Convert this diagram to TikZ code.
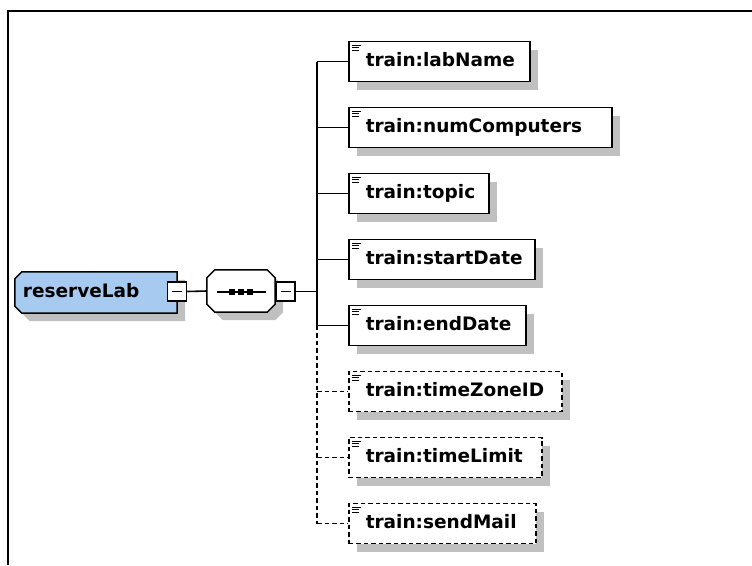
\documentclass[tikz,border=0pt]{standalone}
\usepackage{fontspec}
\setmainfont{DejaVu Sans}
\usetikzlibrary{calc,shadows}
\definecolor{elemblue}{RGB}{166,202,240}
\definecolor{shadowc}{RGB}{192,192,192}
\pgfdeclarelayer{background}
\pgfsetlayers{background,main}
\begin{document}
\begin{tikzpicture}[x=1pt,y=1pt,
  sh/.style={drop shadow={shadow xshift=8pt,shadow yshift=-8pt,fill=shadowc,opacity=1}},
  conn/.style={line width=1.6pt},
  optline/.style={conn, dash pattern=on 4.5pt off 3pt},
  lbl/.style={font=\fontsize{18.5}{20}\selectfont\bfseries, text height=14pt, text depth=4pt},
  icon/.style={path picture={\draw[line width=1pt, solid]
      ([xshift=3.5pt,yshift=-3.5pt]path picture bounding box.north west) -- ++(9pt,0pt)
      ([xshift=3.5pt,yshift=-6pt]path picture bounding box.north west) -- ++(7pt,0pt)
      ([xshift=3.5pt,yshift=-8.5pt]path picture bounding box.north west) -- ++(7pt,0pt);}},
  elembox/.style={lbl, draw, line width=1.5pt, fill=white, sh, inner xsep=0pt, align=left,
      minimum height=40pt, anchor=west, icon},
  optbox/.style={elembox, dash pattern=on 4.5pt off 3pt},
  minusbox/.style={draw, line width=1.5pt, fill=white, minimum size=19pt, inner sep=0pt,
      path picture={\draw[line width=1.5pt]
      ([xshift=4.5pt]path picture bounding box.west) -- ([xshift=-4.5pt]path picture bounding box.east);}}
]
\useasboundingbox (0,0) rectangle (752,-565);
% frame
\draw[line width=2pt] (7.7,-565) -- (7.7,-10.5) -- (752,-10.5);

% root element
\node[lbl, inner xsep=0pt, text width=162pt, minimum height=41pt, align=left] (rl) at (96,-292.5) {\hspace*{8pt}reserveLab};
% sequence compositor
\node[minimum width=68pt, minimum height=42pt, inner sep=0pt] (seq) at (241,-291) {};
\begin{pgfonlayer}{background}
  \draw[line width=1.5pt, fill=elemblue, sh]
    ($(rl.north west)+(7,0)$) -- (rl.north east) -- (rl.south east) -- ($(rl.south west)+(7,0)$)
    -- ($(rl.south west)+(0,7)$) -- ($(rl.north west)+(0,-7)$) -- cycle;
  \draw[line width=1.5pt, fill=white, sh]
    ($(seq.north west)+(8,0)$) -- ($(seq.north east)+(-8,0)$) -- ($(seq.north east)+(0,-8)$)
    -- ($(seq.south east)+(0,8)$) -- ($(seq.south east)+(-8,0)$) -- ($(seq.south west)+(8,0)$)
    -- ($(seq.south west)+(0,8)$) -- ($(seq.north west)+(0,-8)$) -- cycle;
\end{pgfonlayer}
\draw[line width=1.5pt] ($(seq.center)+(-24,-1)$) -- ($(seq.center)+(25,-1)$);
\foreach \dx in {-9,0,9}
  \fill ($(seq.center)+(\dx-2.8,-3.8)$) rectangle ($(seq.center)+(\dx+2.8,1.8)$);

\node[minusbox] (m1) at (177,-291.5) {};
\node[minusbox] (m2) at (285.5,-291.5) {};
\coordinate (bar) at (317,-291.5);

% children
\node[elembox, text width=181pt] (labName) at (348,-61.5) {\hspace*{17pt}train:labName};
\node[elembox, text width=263pt] (numComputers) at (348,-127.5) {\hspace*{17pt}train:numComputers};
\node[elembox, text width=140pt] (topic) at (348,-193.5) {\hspace*{17pt}train:topic};
\node[elembox, text width=186pt] (startDate) at (348,-259.5) {\hspace*{17pt}train:startDate};
\node[elembox, text width=177pt] (endDate) at (348,-325.5) {\hspace*{17pt}train:endDate};
\node[optbox, text width=213pt] (timeZoneID) at (348,-391.5) {\hspace*{17pt}train:timeZoneID};
\node[optbox, text width=193pt] (timeLimit) at (348,-457.5) {\hspace*{17pt}train:timeLimit};
\node[optbox, text width=187pt] (sendMail) at (348,-523.5) {\hspace*{17pt}train:sendMail};

% connectors
\draw[conn] (m1.east) -- (seq.west);
\draw[conn] (m2.east) -- (bar);
\draw[conn] (bar |- labName.west) -- (bar |- endDate.west);
\draw[optline] (bar |- endDate.west) -- (bar |- sendMail.west);
\foreach \c in {labName,numComputers,topic,startDate,endDate}
  \draw[conn] (bar |- \c.west) -- (\c.west);
\foreach \c in {timeZoneID,timeLimit,sendMail}
  \draw[optline] (bar |- \c.west) -- (\c.west);
\end{tikzpicture}
\end{document}
